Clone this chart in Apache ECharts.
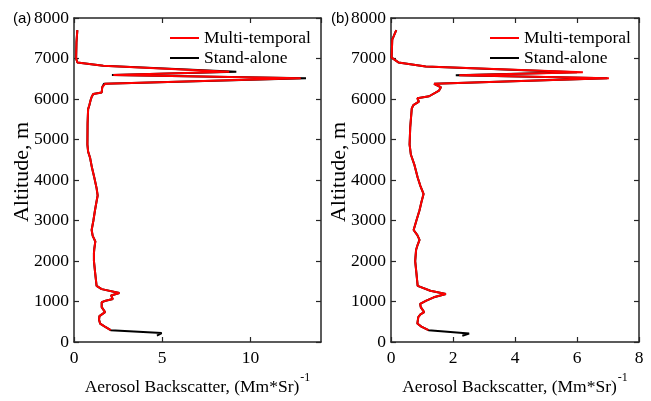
<!DOCTYPE html>
<html><head><meta charset="utf-8">
<script src="https://cdn.jsdelivr.net/npm/echarts@6/dist/echarts.min.js"></script>
<style>html,body{margin:0;padding:0;background:#fff}#c{width:651px;height:401px}</style>
</head><body><div id="c"></div>
<script>
// ---- data (altitude in m, backscatter in (Mm*Sr)^-1) ----
const yTicks = [0,1000,2000,3000,4000,5000,6000,7000,8000];
const leftXTicks = [0,5,10];
const rightXTicks = [0,2,4,6,8];

const leftMTAlt = [7700,7400,7000,6900,6820,6674,6594,6513,6375,6290,6160,6121,6050,5968,5847,5750,5400,4874,4700,4550,4300,4063,3800,3618,3450,3253,3000,2766,2620,2482,2300,2197,1995,1700,1387,1306,1209,1150,1103,1060,1020,981,860,737,640,550,455,380,292];
const leftMTVal = [0.19,0.14,0.12,0.19,1.66,8.8,2.23,12.85,1.76,1.6,1.57,1.09,1.0,0.94,0.87,0.8,0.77,0.76,0.8,0.91,1.02,1.15,1.28,1.34,1.27,1.19,1.1,1.0,1.06,1.21,1.15,1.13,1.13,1.2,1.28,1.57,2.57,2.1,2.04,2.2,1.8,1.57,1.57,1.76,1.44,1.42,1.48,1.75,2.08];
const leftSAAlt = [7700,7400,7000,6900,6820,6674,6594,6513,6375,6290,6160,6121,6050,5968,5847,5750,5400,4874,4700,4550,4300,4063,3800,3618,3450,3253,3000,2766,2620,2482,2300,2197,1995,1700,1387,1306,1209,1150,1103,1060,1020,981,860,737,640,550,455,380,292,220,160];
const leftSAVal = [0.19,0.14,0.12,0.19,1.66,9.2,2.15,13.15,1.7,1.6,1.57,1.09,1.0,0.94,0.87,0.8,0.77,0.76,0.8,0.91,1.02,1.15,1.28,1.34,1.27,1.19,1.1,1.0,1.06,1.21,1.15,1.13,1.13,1.2,1.28,1.57,2.57,2.1,2.04,2.2,1.8,1.57,1.57,1.76,1.44,1.42,1.48,1.75,2.08,4.97,4.7];

const rightMTAlt = [7700,7466,7020,6903,6800,6660,6586,6513,6375,6290,6208,6068,6019,5937,5850,5766,5300,4874,4630,4387,4063,3850,3657,3450,3253,3000,2766,2640,2523,2400,2279,1995,1700,1387,1265,1185,1103,1020,941,860,737,680,616,455,380,292];
const rightMTVal = [0.17,0.04,0.02,0.24,1.12,6.19,2.2,7.03,1.39,1.61,1.55,1.23,0.85,0.9,0.72,0.67,0.62,0.6,0.64,0.75,0.86,0.95,1.05,0.98,0.92,0.82,0.73,0.85,0.92,0.86,0.81,0.78,0.82,0.86,1.27,1.77,1.38,1.14,0.94,0.96,1.07,0.95,0.88,0.85,0.98,1.21];
const rightSAAlt = [7700,7466,7020,6903,6800,6660,6586,6513,6375,6290,6208,6068,6019,5937,5850,5766,5300,4874,4630,4387,4063,3850,3657,3450,3253,3000,2766,2640,2523,2400,2279,1995,1700,1387,1265,1185,1103,1020,941,860,737,680,616,455,380,292,211,154];
const rightSAVal = [0.17,0.04,0.02,0.24,1.12,6.0,2.09,6.98,1.39,1.61,1.55,1.23,0.85,0.9,0.72,0.67,0.62,0.6,0.64,0.75,0.86,0.95,1.05,0.98,0.92,0.82,0.73,0.85,0.92,0.86,0.81,0.78,0.82,0.86,1.27,1.77,1.38,1.14,0.94,0.96,1.07,0.95,0.88,0.85,0.98,1.21,2.52,2.3];

const names = ['Multi-temporal','Stand-alone'];
const labelLetters = ['(a)','(b)'];
const yTitle = 'Altitude, m';

// ---- chart ----
const pair = (xs, ys) => xs.map((v,i)=>[v, ys[i]]);
const serif = 'Liberation Serif';
const axCol = '#262626';
const FS = 17.5;
const chart = echarts.init(document.getElementById('c'), null, {renderer:'canvas'});

function xAxes(gi, max, interval, ticks){
  const base = {type:'value', gridIndex:gi, min:0, max:max, interval:interval,
    axisLine:{show:true, onZero:false, lineStyle:{color:axCol, width:1.5}},
    axisTick:{show:true, inside:true, length:5, lineStyle:{color:axCol, width:1.2}},
    splitLine:{show:false}};
  return [
    Object.assign({}, base, {position:'bottom',
      axisLabel:{show:true, margin:7, color:'#000', fontFamily:serif, fontSize:FS, showMaxLabel: ticks[ticks.length-1]===max,
        formatter:(v)=>String(v)},
      name:'{a|Aerosol Backscatter, (Mm*Sr)}{s|-1}', nameLocation:'middle', nameGap:30,
      nameTextStyle:{rich:{a:{fontFamily:serif, fontSize:FS, color:'#000', lineHeight:24, verticalAlign:'bottom'},
                           s:{fontFamily:serif, fontSize:12, color:'#000', lineHeight:24, verticalAlign:'top', padding:[0,0,0,1]}}}}),
    Object.assign({}, base, {position:'top', axisLabel:{show:false}})
  ];
}
function yAxes(gi){
  const base = {type:'value', gridIndex:gi, min:0, max:8000, interval:1000,
    axisLine:{show:true, onZero:false, lineStyle:{color:axCol, width:1.5}},
    axisTick:{show:true, inside:true, length:5, lineStyle:{color:axCol, width:1.2}},
    splitLine:{show:false}};
  return [
    Object.assign({}, base, {position:'left',
      axisLabel:{show:true, margin:5, color:'#000', fontFamily:serif, fontSize:FS, formatter:(v)=>String(v)}}),
    Object.assign({}, base, {position:'right', axisLabel:{show:false}})
  ];
}

const xa = [...xAxes(0,14,5,leftXTicks), ...xAxes(1,8,2,rightXTicks)];
const ya = [...yAxes(0), ...yAxes(1)];

function line(name, data, color, xi, yi, z){
  return {type:'line', name:name, data:data, xAxisIndex:xi, yAxisIndex:yi, symbol:'none', showSymbol:false,
    smooth:false, z:z, lineStyle:{color:color, width:2}, itemStyle:{color:color}, animation:false};
}

const legendBase = {orient:'vertical', itemWidth:29, itemHeight:2, itemGap:2, icon:'rect',
  textStyle:{fontFamily:serif, fontSize:FS, color:'#000', lineHeight:18}, data:names, selectedMode:false};

function yTitleText(x){
  return {type:'text', x:x, y:172, rotation:Math.PI/2,
    style:{text:yTitle, fontFamily:serif, fontSize:22, fill:'#000', align:'center', verticalAlign:'middle',
      textAlign:'center', textVerticalAlign:'middle'}};
}

chart.setOption({
  animation:false,
  backgroundColor:'#fff',
  grid:[{left:74, top:18, width:247, height:329},{left:391, top:18, width:248, height:329}],
  xAxis: xa,
  yAxis: ya,
  legend:[
    Object.assign({}, legendBase, {left:165, top:24}),
    Object.assign({}, legendBase, {left:485, top:24})
  ],
  series:[
    line(names[1], pair(leftSAVal, leftSAAlt), '#000000', 0, 0, 2),
    line(names[0], pair(leftMTVal, leftMTAlt), '#ff0000', 0, 0, 3),
    line(names[1], pair(rightSAVal, rightSAAlt), '#000000', 2, 2, 2),
    line(names[0], pair(rightMTVal, rightMTAlt), '#ff0000', 2, 2, 3)
  ],
  graphic:[
    {type:'text', left:13, top:11, style:{text:labelLetters[0], fontFamily:'Liberation Sans', fontSize:15, fill:'#000'}},
    {type:'text', left:331, top:11, style:{text:labelLetters[1], fontFamily:'Liberation Sans', fontSize:15, fill:'#000'}},
    yTitleText(22),
    yTitleText(339)
  ]
});
</script></body></html>
